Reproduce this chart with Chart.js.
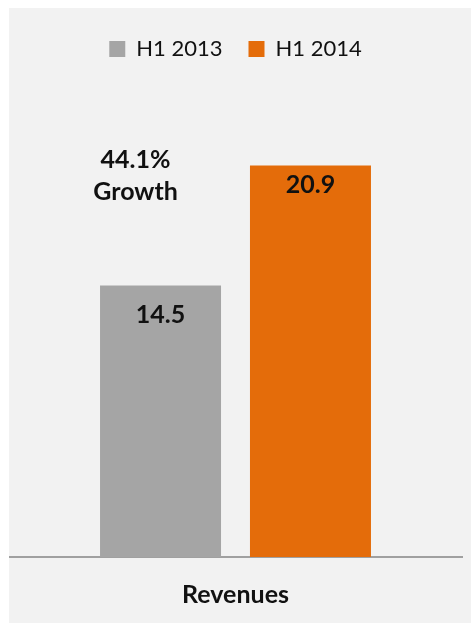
<!DOCTYPE html>
<html>
<head>
    <meta charset="utf-8" lang="en">
    <title>H1 Revenues</title>
    <script src="https://cdn.jsdelivr.net/npm/chart.js@4.4.1/dist/chart.umd.min.js"></script>
    <style>
        body {
            margin: 0;
            background: #ffffff;
        }

        #panel {
            position: absolute;
            left: 9px;
            top: 8px;
            width: 462px;
            height: 615px;
            background: #f2f2f2;
        }
    </style>
</head>
<body>

    <div id="panel">
        <canvas id="revenueChart"></canvas>
    </div>

    <script>
        const categories = ["Revenues"];
        const periods = ["H1 2013", "H1 2014"];
        const revenues2013 = [14.5];
        const revenues2014 = [20.9];

        // growth from first half 2013 to first half 2014
        const growth = (revenues2014[0] - revenues2013[0]) / revenues2013[0] * 100;

        const FONT = "Lato, 'Open Sans', sans-serif";
        const INK = "#111111";

        // value written inside the top of each bar
        const barLabels = {
            id: 'barLabels',
            afterDatasetsDraw(chart) {
                const ctx = chart.ctx;
                const offsets = [30, 19];
                ctx.save();
                ctx.font = "bold 25px " + FONT;
                ctx.fillStyle = INK;
                ctx.textAlign = "center";
                ctx.textBaseline = "middle";
                chart.data.datasets.forEach((ds, i) => {
                    chart.getDatasetMeta(i).data.forEach((bar, j) => {
                        ctx.fillText(ds.data[j].toFixed(1), bar.x, bar.y + offsets[i]);
                    });
                });
                ctx.restore();
            }
        };

        // "xx% Growth" note to the upper left of the taller bar
        const growthNote = {
            id: 'growthNote',
            afterDatasetsDraw(chart) {
                const ctx = chart.ctx;
                const first = chart.getDatasetMeta(0).data[0];
                const second = chart.getDatasetMeta(1).data[0];
                const x = first.x - 25;
                ctx.save();
                ctx.font = "bold 25px " + FONT;
                ctx.fillStyle = INK;
                ctx.textAlign = "center";
                ctx.textBaseline = "middle";
                ctx.fillText(growth.toFixed(1) + "%", x, second.y - 6);
                ctx.fillText("Growth", x, second.y + 26);
                ctx.restore();
            }
        };

        new Chart(document.getElementById('revenueChart'), {
            type: 'bar',
            data: {
                labels: categories,
                datasets: [{
                    label: periods[0],
                    data: revenues2013,
                    backgroundColor: '#a5a5a5',
                    categoryPercentage: 0.662,
                    barPercentage: 0.807
                }, {
                    label: periods[1],
                    data: revenues2014,
                    backgroundColor: '#e46c0a',
                    categoryPercentage: 0.662,
                    barPercentage: 0.807
                }]
            },
            options: {
                responsive: true,
                maintainAspectRatio: false,
                animation: false,
                layout: {
                    padding: { top: 4, right: 9, bottom: -10, left: 0 }
                },
                plugins: {
                    legend: {
                        display: true,
                        position: 'top',
                        labels: {
                            boxWidth: 16,
                            boxHeight: 16,
                            padding: 26,
                            color: INK,
                            font: { family: FONT, size: 22 }
                        }
                    },
                    tooltip: { enabled: false }
                },
                scales: {
                    x: {
                        grid: { display: false, drawTicks: false },
                        border: { display: true, color: '#a0a0a0', width: 2 },
                        ticks: {
                            color: INK,
                            padding: 23,
                            font: { family: FONT, size: 25, weight: 'bold' }
                        }
                    },
                    y: {
                        display: false,
                        min: 0,
                        max: 26
                    }
                }
            },
            plugins: [barLabels, growthNote]
        });
    </script>
</body>
</html>
